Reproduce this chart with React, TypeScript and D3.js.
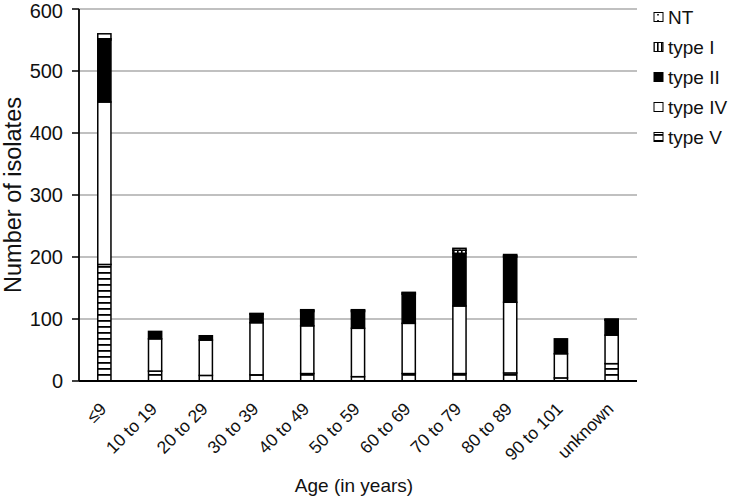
import * as d3 from "d3";
import React from "react";

const categories = ["≤9", "10 to 19", "20 to 29", "30 to 39", "40 to 49", "50 to 59", "60 to 69", "70 to 79", "80 to 89", "90 to 101", "unknown"];
const typeV = [188, 16, 9, 10, 12, 7, 12, 12, 13, 5, 28];
const typeIV = [262, 52, 57, 84, 77, 78, 81, 109, 114, 39, 46];
const typeII = [100, 12, 7, 14, 23, 27, 47, 85, 73, 24, 24];
const typeI = [2, 0, 0, 0, 2, 2, 2, 5, 2, 0, 1];
const typeNT = [8, 0, 0, 1, 1, 1, 1, 3, 2, 0, 1];
const yTicks = [0, 100, 200, 300, 400, 500, 600];

// stack order bottom -> top
const seriesKeys = ["type V", "type IV", "type II", "type I", "NT"];
const seriesValues: Record<string, number[]> = {
  "type V": typeV,
  "type IV": typeIV,
  "type II": typeII,
  "type I": typeI,
  NT: typeNT,
};
const legendOrder = ["NT", "type I", "type II", "type IV", "type V"];
const fills: Record<string, string> = {
  "type V": "url(#pV)",
  "type IV": "#fff",
  "type II": "#000",
  "type I": "url(#pI)",
  NT: "url(#pNT)",
};

const W = 733;
const H = 499;
const m = { left: 79, right: 637, top: 9, bottom: 381 };
const font = "'Liberation Sans', Arial, sans-serif";

export default function App() {
  const x = d3.scaleBand<string>().domain(categories).range([m.left, m.right]).paddingInner(0.74).paddingOuter(0.37);
  const y = d3.scaleLinear().domain([0, 600]).range([m.bottom, m.top]);

  const table = categories.map((c, i) => {
    const row: Record<string, any> = { cat: c };
    seriesKeys.forEach((k) => (row[k] = seriesValues[k][i]));
    return row;
  });
  const stacked = d3.stack<Record<string, any>>().keys(seriesKeys)(table);

  return (
    <svg width={W} height={H} style={{ position: "absolute", left: 0, top: 0, background: "#fff" }} fontFamily={font} fill="#111">
      <defs>
        <pattern id="pV" patternUnits="userSpaceOnUse" width="6" height="6">
          <rect width="6" height="6" fill="#fff" />
          <rect y="2" width="6" height="1.8" fill="#000" />
        </pattern>
        <pattern id="pI" patternUnits="userSpaceOnUse" width="4" height="4">
          <rect width="4" height="4" fill="#fff" />
          <rect x="1" width="1.6" height="4" fill="#000" />
        </pattern>
        <pattern id="pNT" patternUnits="userSpaceOnUse" width="6" height="6">
          <rect width="6" height="6" fill="#fff" />
          <rect x="3" y="2" width="2" height="1.5" fill="#333" />
        </pattern>
      </defs>
      {yTicks.slice(1).map((t) => (
        <line key={t} x1={m.left} x2={m.right} y1={y(t)} y2={y(t)} stroke="#ababab" strokeWidth={1.6} />
      ))}
      {stacked.map((s) =>
        s.map((d, i) => {
          const h = y(d[0]) - y(d[1]);
          if (h <= 0) return null;
          return (
            <rect
              key={s.key + i}
              x={x(categories[i])!}
              y={y(d[1])}
              width={x.bandwidth()}
              height={h}
              fill={fills[s.key]}
              stroke="#000"
              strokeWidth={1.5}
            />
          );
        })
      )}
      {/* y axis */}
      <line x1={m.left} x2={m.left} y1={m.top} y2={m.bottom} stroke="#000" strokeWidth={1.8} />
      {yTicks.map((t) => (
        <g key={t}>
          <line x1={m.left - 7} x2={m.left} y1={y(t)} y2={y(t)} stroke="#000" strokeWidth={1.5} />
          <text x={m.left - 16} y={Math.max(y(t), 11)} dy="0.36em" textAnchor="end" fontSize={20}>
            {t}
          </text>
        </g>
      ))}
      {/* x axis */}
      <line x1={m.left} x2={m.right} y1={m.bottom} y2={m.bottom} stroke="#000" strokeWidth={2} />
      {categories.map((c) => {
        const cx = x(c)! + x.bandwidth() / 2 + 3;
        const cy = m.bottom + 29;
        return (
          <text key={c} x={cx} y={cy} textAnchor="end" fontSize={17.5} transform={`rotate(-45 ${cx} ${cy})`}>
            {c}
          </text>
        );
      })}
      <text x={354} y={492} textAnchor="middle" fontSize={19}>
        Age (in years)
      </text>
      <text transform={`translate(21 ${195}) rotate(-90)`} textAnchor="middle" fontSize={23.5}>
        Number of isolates
      </text>
      {/* legend */}
      {legendOrder.map((k, i) => {
        const ly = 17 + i * 30;
        return (
          <g key={k}>
            <rect x={654} y={ly - 4.5} width={9} height={9} fill={fills[k]} stroke="#000" strokeWidth={1} />
            <text x={668} y={ly} dy="0.36em" fontSize={19}>
              {k}
            </text>
          </g>
        );
      })}
    </svg>
  );
}
